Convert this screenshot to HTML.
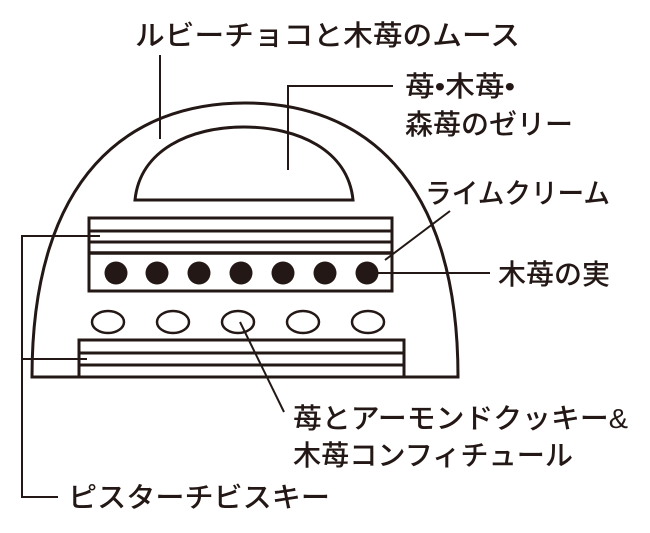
<!DOCTYPE html>
<html><head><meta charset="utf-8"><style>
html,body{margin:0;padding:0;background:#fff;}
svg{display:block}
text{font-family:"Liberation Sans","Noto Sans CJK JP",sans-serif;fill:#231815;font-size:28px;font-weight:500;}
</style></head><body>
<svg width="650" height="533" viewBox="0 0 650 533" xmlns="http://www.w3.org/2000/svg">
<g fill="none" stroke="#231815" stroke-width="3">
<path d="M32,377 C32,175 130,103 245,103 C360,103 458,175 458,377 Z"/>
<path d="M135,200 C140,150 190,127 244,127 C298,127 348,150 353,200 Z"/>
<rect x="89" y="218" width="303" height="73"/>
<line x1="89" y1="231" x2="392" y2="231"/>
<line x1="89" y1="242" x2="392" y2="242"/>
<line x1="89" y1="253" x2="392" y2="253" stroke-width="3.5"/>
<rect x="79" y="340" width="325" height="37"/>
<line x1="79" y1="353" x2="404" y2="353"/>
<line x1="79" y1="365" x2="404" y2="365"/>
<g stroke-width="2.5">
<ellipse cx="108" cy="322" rx="16" ry="11"/>
<ellipse cx="173" cy="322" rx="16" ry="11"/>
<ellipse cx="238" cy="322" rx="16" ry="11"/>
<ellipse cx="303" cy="322" rx="16" ry="11"/>
<ellipse cx="368" cy="322" rx="16" ry="11"/>
</g>
<g stroke-width="2">
<line x1="160" y1="55" x2="160" y2="139"/>
<polyline points="288,170 288,86 393,86"/>
<line x1="385" y1="260" x2="450" y2="211"/>
<line x1="367" y1="273" x2="490" y2="273"/>
<line x1="240" y1="322" x2="284" y2="412"/>
<polyline points="100,236 22,236 22,497 58,497"/>
<line x1="22" y1="359" x2="87" y2="359"/>
</g>
</g>
<g fill="#231815">
<circle cx="116" cy="273" r="11.5"/><circle cx="157" cy="273" r="11.5"/><circle cx="199" cy="273" r="11.5"/><circle cx="241" cy="273" r="11.5"/><circle cx="283" cy="273" r="11.5"/><circle cx="325" cy="273" r="11.5"/><circle cx="367" cy="273" r="11.5"/>
</g>
<text x="135" y="45" textLength="385" lengthAdjust="spacingAndGlyphs">ルビーチョコと木苺のムース</text>
<text x="405" y="96" textLength="110" lengthAdjust="spacingAndGlyphs">苺•木苺•</text>
<text x="405" y="134">森苺のゼリー</text>
<text x="425" y="203" textLength="185" lengthAdjust="spacingAndGlyphs">ライムクリーム</text>
<text x="498" y="284">木苺の実</text>
<text x="293" y="428" textLength="335" lengthAdjust="spacingAndGlyphs">苺とアーモンドクッキー&amp;</text>
<text x="293" y="465" textLength="280" lengthAdjust="spacingAndGlyphs">木苺コンフィチュール</text>
<text x="68" y="507" textLength="262" lengthAdjust="spacingAndGlyphs">ピスターチビスキー</text>
</svg>
</body></html>
